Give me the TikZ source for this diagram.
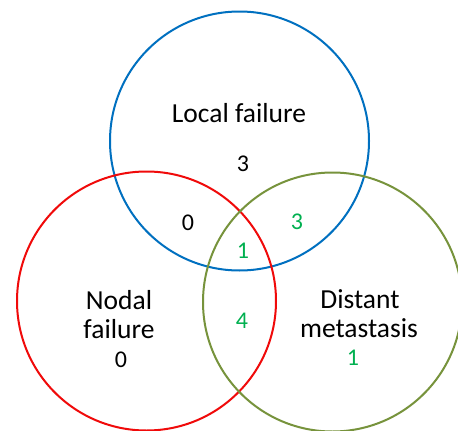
\documentclass[tikz,border=0pt]{standalone}
\usepackage{fontspec}
\setmainfont{Carlito}
\definecolor{cblue}{HTML}{0070C0}
\definecolor{cred}{HTML}{F00A0A}
\definecolor{colive}{HTML}{77933C}
\definecolor{cgreen}{HTML}{00B050}
\tikzset{
  ring/.style={line width=2pt},
  lbl/.style={anchor=base, inner sep=0pt, font=\fontsize{27.5}{31}\selectfont},
  num/.style={anchor=base, inner sep=0pt, font=\fontsize{24}{28}\selectfont},
  gnum/.style={num, text=cgreen}
}
\begin{document}
\begin{tikzpicture}[x=1pt,y=-1pt]
\useasboundingbox (0,0) rectangle (458,431);
\fill[white] (0,0) rectangle (458,431);
\draw[ring, cblue] (239.5,141) circle (129.5);
\draw[ring, cred] (146.5,301) circle (129.5);
\draw[ring, colive] (332.5,302) circle (129.5);
\node[lbl] (local) at (239,122.5) {Local failure};
\node[num] (n3) at (243,171) {3};
\node[num] (n0a) at (188,230) {0};
\node[gnum] (g3) at (297,229.5) {3};
\node[gnum] (g1) at (243,258) {1};
\node[gnum] (g4) at (242,328) {4};
\node[lbl] (nodal1) at (119,309) {Nodal};
\node[lbl] (nodal2) at (119,338) {failure};
\node[num] (n0b) at (121,367) {0};
\node[lbl] (dist1) at (360,308) {Distant};
\node[lbl] (dist2) at (359,337) {metastasis};
\node[gnum] (g1b) at (353,365) {1};
\end{tikzpicture}
\end{document}
